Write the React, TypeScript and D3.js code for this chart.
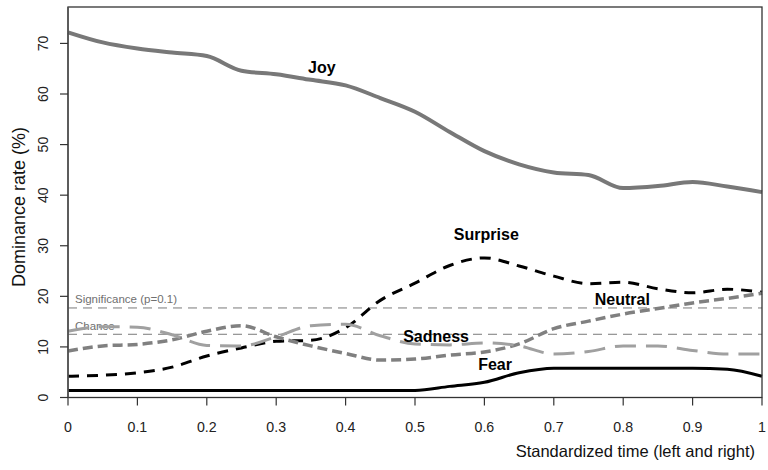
import React from "react";
import * as d3 from "d3";

const time = [0, 0.05, 0.1, 0.15, 0.2, 0.25, 0.3, 0.35, 0.4, 0.45, 0.5, 0.55, 0.6, 0.65, 0.7, 0.75, 0.8, 0.85, 0.9, 0.95, 1.0];
const joy = [72.2, 70.2, 69.0, 68.2, 67.5, 64.6, 63.9, 62.8, 61.7, 59.2, 56.5, 52.5, 48.7, 46.1, 44.5, 44.0, 41.4, 41.8, 42.6, 41.7, 40.6];
const surprise = [4.2, 4.4, 4.9, 6.0, 8.2, 9.8, 11.1, 11.3, 13.8, 19.2, 22.6, 26.1, 27.6, 26.0, 24.0, 22.5, 22.8, 21.5, 20.7, 21.4, 20.8];
const neutral = [9.2, 10.2, 10.5, 11.4, 13.1, 14.2, 12.0, 10.2, 8.7, 7.4, 7.6, 8.4, 9.0, 10.6, 13.6, 15.1, 16.5, 17.6, 18.7, 19.6, 20.6];
const sadness = [13.1, 14.0, 13.9, 12.4, 10.3, 10.2, 12.0, 14.2, 14.5, 12.2, 10.6, 10.4, 10.8, 10.2, 8.6, 9.1, 10.2, 10.2, 9.3, 8.6, 8.6];
const fear = [1.4, 1.4, 1.4, 1.4, 1.4, 1.4, 1.4, 1.4, 1.4, 1.4, 1.4, 2.2, 3.0, 4.9, 5.8, 5.8, 5.8, 5.8, 5.8, 5.6, 4.2];

const seriesNames = ["Joy", "Surprise", "Neutral", "Sadness", "Fear"];
const seriesValues = [joy, surprise, neutral, sadness, fear];

const xTicks = [0, 0.1, 0.2, 0.3, 0.4, 0.5, 0.6, 0.7, 0.8, 0.9, 1];
const xTickLabels = ["0", "0.1", "0.2", "0.3", "0.4", "0.5", "0.6", "0.7", "0.8", "0.9", "1"];
const yTicks = [0, 10, 20, 30, 40, 50, 60, 70];

const refNames = ["Significance (p=0.1)", "Chance"];
const refValues = [17.7, 12.5];

// styling (not data)
const styles = [
  { color: "#787878", width: 4, dash: "" },
  { color: "#000000", width: 3, dash: "11,8" },
  { color: "#808080", width: 3.5, dash: "10,5" },
  { color: "#a0a0a0", width: 3, dash: "21,10" },
  { color: "#000000", width: 3, dash: "" },
];
// label anchor positions, in data units
const labelPos = [
  [0.346, 64.2],
  [0.556, 31.1],
  [0.759, 18.3],
  [0.483, 11.0],
  [0.591, 5.4],
];
const refLabelY = [303, 330];

export default function App() {
  const W = 768, H = 470;
  const x = d3.scaleLinear().domain([0, 1]).range([68, 762]);
  const y = d3.scaleLinear().domain([0, 77.2]).range([397.5, 7]);
  const line = d3
    .line<number>()
    .x((_, i) => x(time[i]))
    .y((d) => y(d))
    .curve(d3.curveMonotoneX);

  const font = "'Liberation Sans', Arial, sans-serif";

  return (
    <svg
      width={W}
      height={H}
      style={{ position: "absolute", left: 0, top: 0, background: "#fff" }}
      fontFamily={font}
    >
      <rect x={0} y={0} width={W} height={H} fill="#fff" />
      {refValues.map((v, i) => (
        <line
          key={"ref" + i}
          x1={x(0)}
          x2={x(1)}
          y1={y(v)}
          y2={y(v)}
          stroke="#7a7a7a"
          strokeWidth={1}
          strokeDasharray="9,6"
        />
      ))}
      {refNames.map((n, i) => (
        <text key={"refl" + i} x={75} y={refLabelY[i]} fontSize={11.5} fill="#707070">
          {n}
        </text>
      ))}
      {seriesValues.map((vals, i) => (
        <path
          key={"s" + i}
          d={line(vals) || ""}
          fill="none"
          stroke={styles[i].color}
          strokeWidth={styles[i].width}
          strokeDasharray={styles[i].dash || undefined}
          strokeLinejoin="round"
        />
      ))}
      {seriesNames.map((n, i) => (
        <text
          key={"lab" + i}
          x={x(labelPos[i][0])}
          y={y(labelPos[i][1])}
          fontSize={16}
          fontWeight="bold"
          fill="#000"
        >
          {n}
        </text>
      ))}
      <rect x={x(0)} y={y(77.2)} width={x(1) - x(0)} height={y(0) - y(77.2)} fill="none" stroke="#333" strokeWidth={1.3} />
      <line x1={x(0)} x2={x(0)} y1={y(0)} y2={y(77.2)} stroke="#555" strokeWidth={1.6} />
      {xTicks.map((t, i) => (
        <g key={"xt" + i}>
          <line x1={x(t)} x2={x(t)} y1={y(0)} y2={y(0) + 8} stroke="#333" strokeWidth={1.2} />
          <text x={x(t)} y={432} fontSize={14.2} textAnchor="middle" fill="#222">
            {xTickLabels[i]}
          </text>
        </g>
      ))}
      {yTicks.map((v, i) => (
        <g key={"yt" + i}>
          <line x1={x(0) - 8} x2={x(0)} y1={y(v)} y2={y(v)} stroke="#333" strokeWidth={1.2} />
          <text
            transform={`translate(48,${y(v)}) rotate(-90)`}
            fontSize={14.2}
            textAnchor="middle"
            fill="#222"
          >
            {v}
          </text>
        </g>
      ))}
      <text
        transform={`translate(25,${207}) rotate(-90)`}
        fontSize={18}
        textAnchor="middle"
        fill="#111"
      >
        Dominance rate (%)
      </text>
      <text x={755} y={457} fontSize={16.5} textAnchor="end" fill="#111">
        Standardized time (left and right)
      </text>
    </svg>
  );
}
